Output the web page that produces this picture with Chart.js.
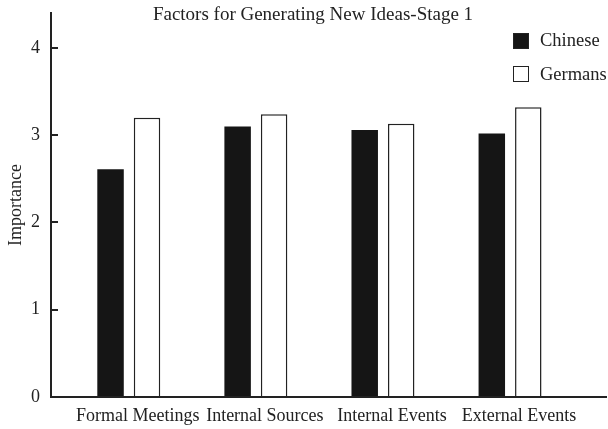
<!DOCTYPE html>
<html>
<head>
<meta charset="utf-8">
<script src="https://cdn.jsdelivr.net/npm/chart.js@4/dist/chart.umd.min.js"></script>
<style>
  html, body { margin: 0; padding: 0; background: #fff; }
  #wrap { position: relative; width: 608px; height: 429px; font-family: 'Liberation Serif', serif; color: #222; }
  #title { position: absolute; top: 3px; left: 0; width: 626px; text-align: center; font-size: 19px; }
  #legend { position: absolute; left: 513px; top: 24px; font-size: 18.5px; }
  .item { display: flex; align-items: center; height: 33.5px; }
  .box { width: 16px; height: 16px; box-sizing: border-box; border: 1.5px solid #222; margin-right: 11px; }
</style>
</head>
<body>
<div id="wrap">
  <canvas id="c" width="608" height="429"></canvas>
  <div id="title">Factors for Generating New Ideas-Stage 1</div>
  <div id="legend"></div>
</div>
<script>
const categories = ['Formal Meetings', 'Internal Sources', 'Internal Events', 'External Events'];
const seriesNames = ['Chinese', 'Germans'];
const chinese = [2.61, 3.10, 3.06, 3.02];
const germans = [3.20, 3.24, 3.13, 3.32];
const yTicks = [0, 1, 2, 3, 4];

const fills = ['#151515', '#ffffff'];

const toPoints = vals => vals.map((v, i) => ({ x: i + 1, y: v }));

const data = {
  datasets: [{
    label: seriesNames[0],
    data: toPoints(chinese),
    backgroundColor: fills[0],
    borderColor: '#151515',
    borderWidth: 0
  }, {
    label: seriesNames[1],
    data: toPoints(germans),
    backgroundColor: fills[1],
    borderColor: '#222',
    borderWidth: 1.5
  }]
};

const font = { family: 'Liberation Serif, serif', size: 18 };

const config = {
  type: 'bar',
  data: data,
  options: {
    responsive: false,
    animation: false,
    layout: { padding: { top: 13, right: 2 } },
    categoryPercentage: 0.574,
    barPercentage: 0.726,
    plugins: {
      legend: { display: false },
      title: { display: false },
      tooltip: { enabled: false }
    },
    scales: {
      x: {
        type: 'linear',
        offset: false,
        min: 0.388,
        max: 4.755,
        grid: { display: false, offset: false },
        border: { color: '#222', width: 2 },
        afterFit: s => { s.height = 32; s.paddingLeft = 0; s.paddingRight = 0; },
        afterBuildTicks: s => { s.ticks = categories.map((c, i) => ({ value: i + 1 })); },
        ticks: {
          color: '#222',
          font: font,
          padding: 0,
          labelOffset: 9,
          autoSkip: false,
          maxRotation: 0,
          callback: v => categories[v - 1]
        }
      },
      y: {
        min: 0,
        max: 4.4,
        afterFit: s => { s.width = 51; s.paddingTop = 0; s.paddingBottom = 0; },
        afterBuildTicks: s => { s.ticks = yTicks.map(v => ({ value: v })); },
        grid: { drawOnChartArea: false, tickLength: -7, color: '#222', lineWidth: 2 },
        border: { color: '#222', width: 2 },
        title: { display: true, text: 'Importance', color: '#222', font: font, padding: { top: 5 } },
        ticks: { color: '#222', font: font, padding: 18 }
      }
    }
  }
};

new Chart(document.getElementById('c'), config);

const legend = document.getElementById('legend');
seriesNames.forEach((name, i) => {
  const item = document.createElement('div');
  item.className = 'item';
  const box = document.createElement('span');
  box.className = 'box';
  box.style.background = fills[i];
  const label = document.createElement('span');
  label.textContent = name;
  item.appendChild(box);
  item.appendChild(label);
  legend.appendChild(item);
});
</script>
</body>
</html>
